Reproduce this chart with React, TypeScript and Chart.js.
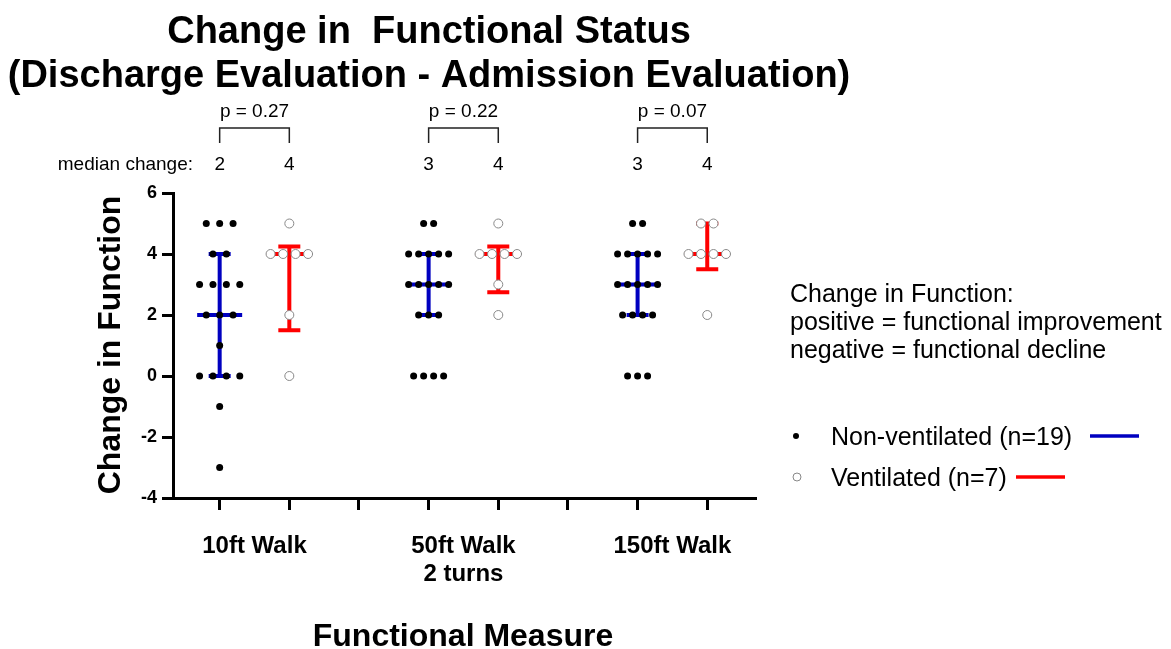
import React, { useEffect, useRef } from 'react';
import { Chart, registerables } from 'chart.js';

Chart.register(...registerables);

// ---------- DATA ----------
const categories = ['10ft Walk', '50ft Walk\n2 turns', '150ft Walk'];
const seriesNames = ['Non-ventilated (n=19)', 'Ventilated (n=7)'];

const nonVent10 = [5, 5, 5, 4, 4, 3, 3, 3, 3, 2, 2, 2, 1, 0, 0, 0, 0, -1, -3];
const vent10 = [5, 4, 4, 4, 4, 2, 0];
const nonVent50 = [5, 5, 4, 4, 4, 4, 4, 3, 3, 3, 3, 3, 2, 2, 2, 0, 0, 0, 0];
const vent50 = [5, 4, 4, 4, 4, 3, 2];
const nonVent150 = [5, 5, 4, 4, 4, 4, 4, 3, 3, 3, 3, 3, 2, 2, 2, 2, 0, 0, 0];
const vent150 = [5, 5, 4, 4, 4, 4, 2];

const nonVentMedian = [2, 3, 3];
const nonVentQ1 = [0, 2, 2];
const nonVentQ3 = [4, 4, 4];
const ventMedian = [4, 4, 4];
const ventQ1 = [1.5, 2.75, 3.5];
const ventQ3 = [4.25, 4.25, 5];

const pValues = ['p = 0.27', 'p = 0.22', 'p = 0.07'];
const yTickValues = [-4, -2, 0, 2, 4, 6];
const titleLines = ['Change in  Functional Status', '(Discharge Evaluation - Admission Evaluation)'];
const yTitle = 'Change in Function';
const xTitle = 'Functional Measure';
const noteLines = ['Change in Function:', 'positive = functional improvement', 'negative = functional decline'];
const medianLabel = 'median change:';

// ---------- LAYOUT ----------
const W = 1171;
const H = 649;
const AREA = { left: 173, right: 756, top: 193, bottom: 498 };
const X_MIN = -0.67;
const X_MAX = 7.7;
const PX_PER_UNIT = (AREA.right - AREA.left) / (X_MAX - X_MIN);
const nonVentSpacingPx = [13.4, 10, 10];
const ventSpacingPx = [12.5, 12.5, 12.5];
const BLUE = '#0000C0';
const RED = '#FF0000';
const FONT = "'Liberation Sans', Arial, sans-serif";

const nonVentGroups = [nonVent10, nonVent50, nonVent150];
const ventGroups = [vent10, vent50, vent150];

function swarm(values: number[], center: number, spacingPx: number) {
  const counts = new Map<number, number>();
  values.forEach((v) => counts.set(v, (counts.get(v) || 0) + 1));
  const seen = new Map<number, number>();
  return values.map((v) => {
    const n = counts.get(v) || 1;
    const i = seen.get(v) || 0;
    seen.set(v, i + 1);
    const off = ((i - (n - 1) / 2) * spacingPx) / PX_PER_UNIT;
    return { x: center + off, y: v };
  });
}

export default function App() {
  const ref = useRef<HTMLCanvasElement | null>(null);

  useEffect(() => {
    const canvas = ref.current;
    if (!canvas) return;

    const nonVentPts = nonVentGroups.flatMap((g, i) => swarm(g, i * 3, nonVentSpacingPx[i]));
    const ventPts = ventGroups.flatMap((g, i) => swarm(g, i * 3 + 1, ventSpacingPx[i]));

    const errorBars = {
      id: 'errorBars',
      beforeDatasetsDraw(chart: any) {
        const ctx = chart.ctx;
        const xs = chart.scales.x;
        const ys = chart.scales.y;
        const draw = (cx: number, med: number, q1: number, q3: number, color: string) => {
          const px = xs.getPixelForValue(cx);
          const pm = ys.getPixelForValue(med);
          const p1 = ys.getPixelForValue(q1);
          const p3 = ys.getPixelForValue(q3);
          ctx.save();
          ctx.strokeStyle = color;
          ctx.lineWidth = 4;
          ctx.lineCap = 'butt';
          ctx.beginPath();
          ctx.moveTo(px, p1);
          ctx.lineTo(px, p3);
          ctx.moveTo(px - 11, p1);
          ctx.lineTo(px + 11, p1);
          ctx.moveTo(px - 11, p3);
          ctx.lineTo(px + 11, p3);
          ctx.moveTo(px - 22.5, pm);
          ctx.lineTo(px + 22.5, pm);
          ctx.stroke();
          ctx.restore();
        };
        for (let g = 0; g < 3; g++) {
          draw(g * 3, nonVentMedian[g], nonVentQ1[g], nonVentQ3[g], BLUE);
          draw(g * 3 + 1, ventMedian[g], ventQ1[g], ventQ3[g], RED);
        }
      },
    };

    const annotations = {
      id: 'annotations',
      afterDraw(chart: any) {
        const ctx = chart.ctx;
        const xs = chart.scales.x;
        ctx.save();
        ctx.fillStyle = '#000';
        ctx.textBaseline = 'alphabetic';

        // Title
        ctx.font = `bold 38px ${FONT}`;
        ctx.textAlign = 'center';
        ctx.fillText(titleLines[0], 429, 43);
        ctx.fillText(titleLines[1], 429, 87);

        // p-values, brackets, medians
        ctx.font = `19px ${FONT}`;
        for (let g = 0; g < 3; g++) {
          const a = xs.getPixelForValue(g * 3);
          const b = xs.getPixelForValue(g * 3 + 1);
          ctx.textAlign = 'center';
          ctx.fillText(pValues[g], (a + b) / 2, 117);
          ctx.strokeStyle = '#222';
          ctx.lineWidth = 1.5;
          ctx.beginPath();
          ctx.moveTo(a, 143);
          ctx.lineTo(a, 128);
          ctx.lineTo(b, 128);
          ctx.lineTo(b, 143);
          ctx.stroke();
          ctx.fillText(String(nonVentMedian[g]), a, 170);
          ctx.fillText(String(ventMedian[g]), b, 170);
        }
        ctx.textAlign = 'right';
        ctx.fillText(medianLabel, 193, 170);

        // Category labels
        ctx.font = `bold 24px ${FONT}`;
        ctx.textAlign = 'center';
        categories.forEach((c, g) => {
          const cx = xs.getPixelForValue(g * 3 + 0.5);
          c.split('\n').forEach((line, li) => ctx.fillText(line, cx, 553 + li * 28));
        });

        // Axis titles
        ctx.font = `bold 32px ${FONT}`;
        ctx.textAlign = 'center';
        ctx.fillText(xTitle, 463, 646);
        ctx.save();
        ctx.translate(120, 345);
        ctx.rotate(-Math.PI / 2);
        ctx.fillText(yTitle, 0, 0);
        ctx.restore();

        // Note
        ctx.font = `25px ${FONT}`;
        ctx.textAlign = 'left';
        noteLines.forEach((l, i) => ctx.fillText(l, 790, 302 + i * 28));

        // Legend
        ctx.beginPath();
        ctx.arc(796, 436, 3, 0, Math.PI * 2);
        ctx.fillStyle = '#000';
        ctx.fill();
        ctx.fillText(seriesNames[0], 831, 445);
        ctx.strokeStyle = BLUE;
        ctx.lineWidth = 3.5;
        ctx.beginPath();
        ctx.moveTo(1090, 436);
        ctx.lineTo(1139, 436);
        ctx.stroke();

        ctx.beginPath();
        ctx.arc(797, 477, 4, 0, Math.PI * 2);
        ctx.strokeStyle = '#888';
        ctx.lineWidth = 1;
        ctx.stroke();
        ctx.fillStyle = '#000';
        ctx.fillText(seriesNames[1], 831, 486);
        ctx.strokeStyle = RED;
        ctx.lineWidth = 3.5;
        ctx.beginPath();
        ctx.moveTo(1016, 477);
        ctx.lineTo(1065, 477);
        ctx.stroke();

        ctx.restore();
      },
    };

    const Y_AXIS_W = 40;
    const chart = new Chart(canvas, {
      type: 'scatter',
      data: {
        datasets: [
          {
            label: seriesNames[0],
            data: nonVentPts,
            pointRadius: 3.5,
            pointBackgroundColor: '#000',
            pointBorderWidth: 0,
            borderColor: '#000',
          },
          {
            label: seriesNames[1],
            data: ventPts,
            pointRadius: 4.5,
            pointBackgroundColor: '#fff',
            pointBorderColor: '#888',
            pointBorderWidth: 1,
            borderColor: '#888',
          },
        ],
      },
      options: {
        responsive: false,
        animation: false,
        devicePixelRatio: 1,
        layout: {
          padding: {
            left: AREA.left - Y_AXIS_W,
            right: W - AREA.right,
            top: AREA.top,
            bottom: 0,
          },
        },
        plugins: {
          legend: { display: false },
          tooltip: { enabled: false },
          title: { display: false },
        },
        scales: {
          x: {
            type: 'linear',
            min: X_MIN,
            max: X_MAX,
            afterBuildTicks: (s: any) => {
              s.ticks = [0, 1, 2, 3, 4, 5, 6, 7].map((v) => ({ value: v }));
            },
            afterFit: (s: any) => {
              s.height = H - AREA.bottom;
            },
            ticks: { display: false },
            grid: {
              drawOnChartArea: false,
              drawTicks: true,
              tickLength: 12,
              tickWidth: 3,
              tickColor: '#000',
            },
            border: { display: true, color: '#000', width: 3 },
          },
          y: {
            type: 'linear',
            min: -4,
            max: 6,
            afterBuildTicks: (s: any) => {
              s.ticks = yTickValues.map((v) => ({ value: v }));
            },
            afterFit: (s: any) => {
              s.width = Y_AXIS_W;
            },
            ticks: {
              color: '#000',
              padding: 5,
              font: { family: FONT, size: 18, weight: 'bold' },
            },
            grid: {
              drawOnChartArea: false,
              drawTicks: true,
              tickLength: 11,
              tickWidth: 3,
              tickColor: '#000',
            },
            border: { display: true, color: '#000', width: 3 },
          },
        },
      },
      plugins: [errorBars, annotations],
    } as any);

    return () => chart.destroy();
  }, []);

  return (
    <div style={{ position: 'fixed', left: 0, top: 0, width: W, height: H, background: '#fff' }}>
      <canvas ref={ref} width={W} height={H} style={{ width: W, height: H, display: 'block' }} />
    </div>
  );
}
